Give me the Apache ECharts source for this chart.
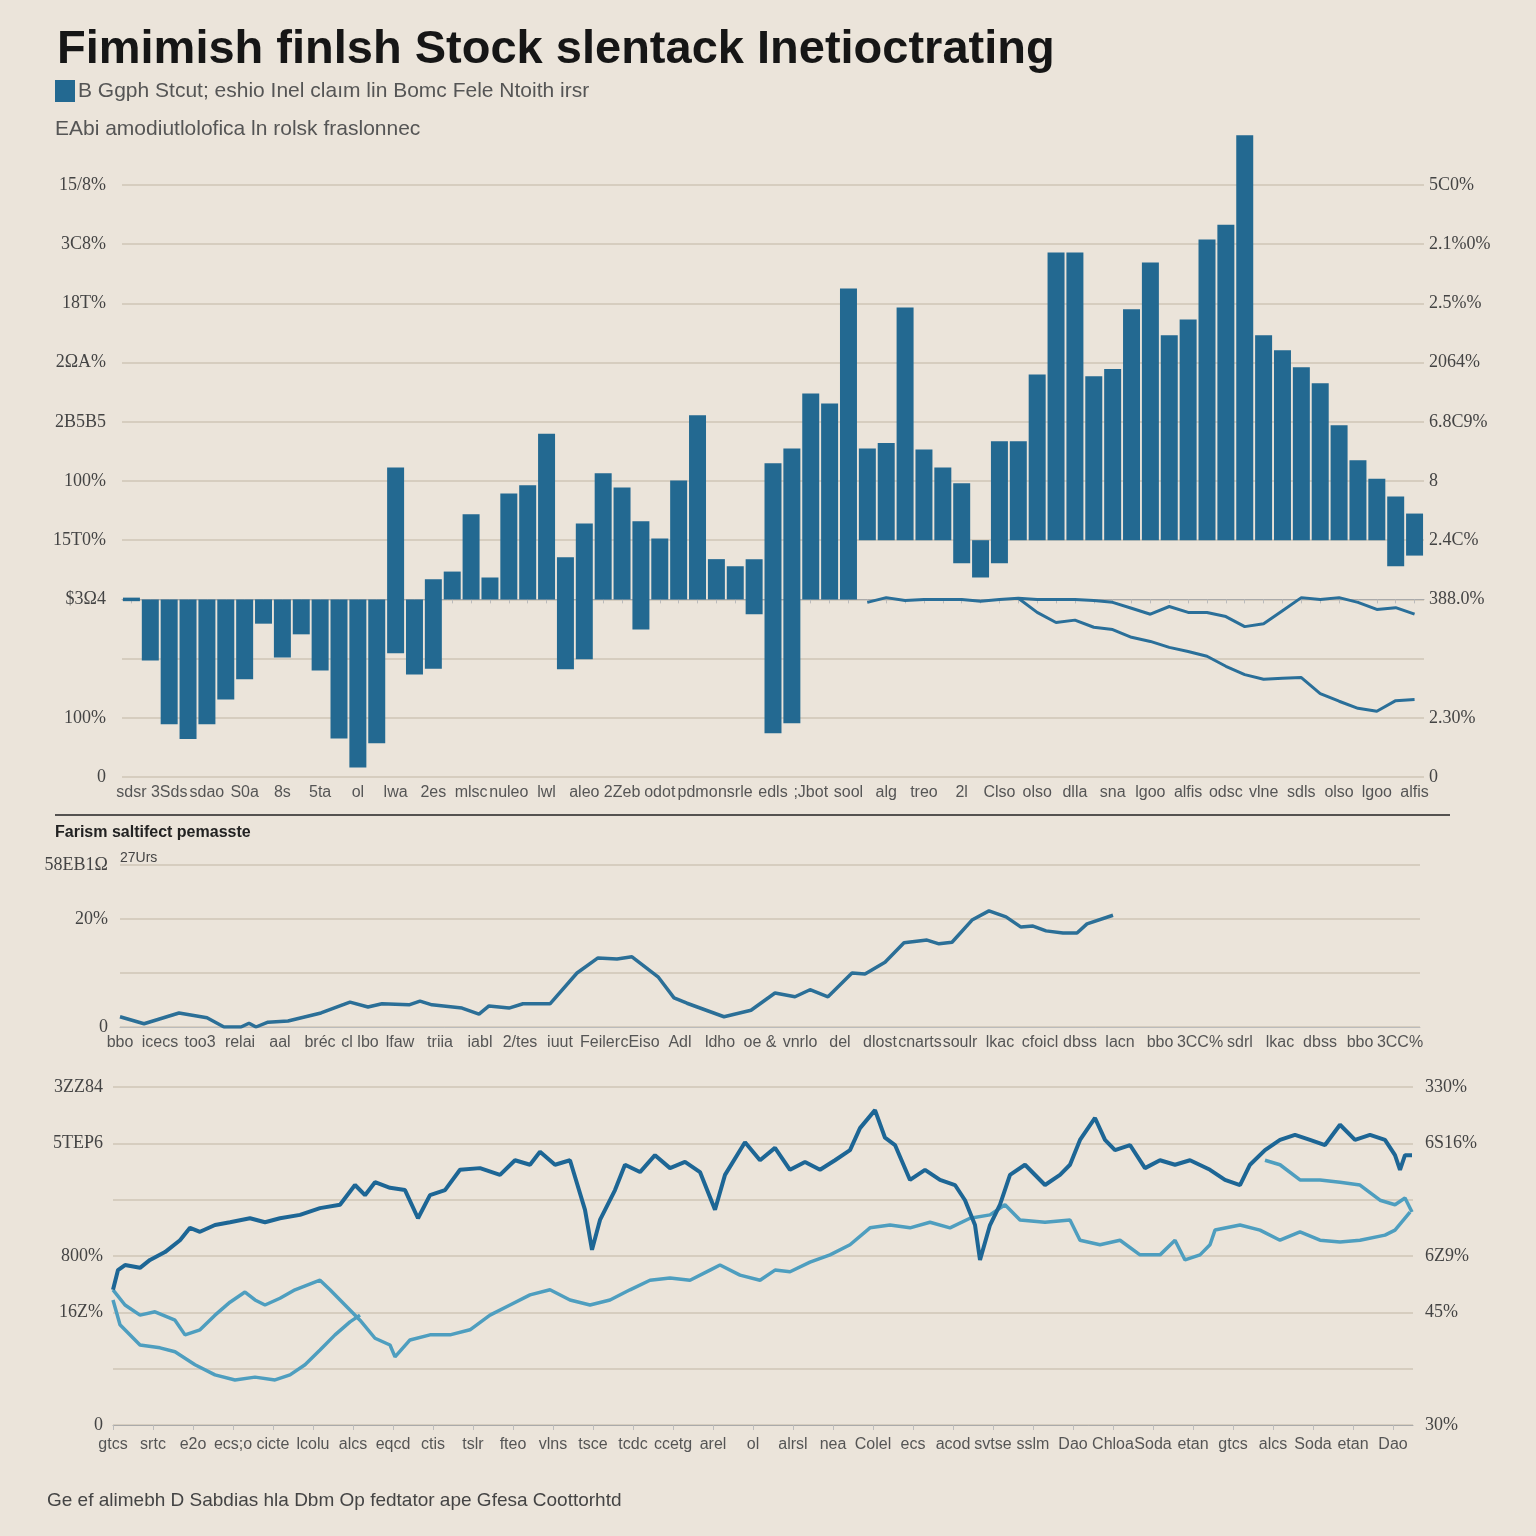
<!DOCTYPE html>
<html><head><meta charset="utf-8">
<script src="https://cdn.jsdelivr.net/npm/echarts@6/dist/echarts.min.js"></script>
<style>html,body{margin:0;padding:0;background:#ebe4da}#c{width:1536px;height:1536px}</style>
</head><body><div id="c"></div>
<script>
// ---------- TEXT ----------
const titleText = "Fimimish finlsh Stock slentack Inetioctrating";
const legendText = "B Ggph Stcut; eshio Inel claım lin Bomc Fele Ntoith irsr";
const subtitleText = "EAbi amodiutlolofica ln rolsk fraslonnec";
const panel2Header = "Farism saltifect pemasste";
const panel2Unit = "27Urs";
const footerText = "Ge ef alimebh D Sabdias hla Dbm Op fedtator ape Gfesa Coottorhtd";

// ---------- PANEL 1 (bars + two lines) ----------
const p1LeftLabels  = ["0","100%","","$3Ω4","15T0%","100%","2B5B5","2ΩA%","18T%","3C8%","15/8%"];
const p1RightLabels = ["0","2.30%","","388.0%","2.4C%","8","6.8C9%","2064%","2.5%%","2.1%0%","5C0%"];
const p1Words = ["sdsr","3Sds","sdao","S0a","8s","5ta","ol","lwa","2es","mlsc","nuleo","lwl","aleo","2Zeb","odot","pdmo","nsrle","edls",";Jbot","sool","alg","treo","2l","Clso","olso","dlla","sna","lgoo","alfis","odsc","vlne","sdls","olso","lgoo","alfis"];
const barLow  = [-0.03,-1.03,-2.11,-2.36,-2.11,-1.69,-1.35,-0.41,-0.98,-0.59,-1.20,-2.35,-2.84,-2.43,-0.91,-1.27,-1.17,0,0,0,0,0,0,-1.18,-1.01,0,0,-0.51,0,0,0,0,0,-0.25,-2.26,-2.09,0,0,0,1,1,1,1,1,0.61,0.37,0.61,1,1,1,1,1,1,1,1,1,1,1,1,1,1,1,1,1,1,1,1,0.56,0.74];
const barHigh = [0.03,0,0,0,0,0,0,0,0,0,0,0,0,0,2.23,0,0.34,0.47,1.44,0.37,1.79,1.93,2.80,0.71,1.28,2.13,1.89,1.32,1.03,2.01,3.11,0.68,0.56,0.68,2.30,2.55,3.48,3.31,5.25,2.55,2.64,4.93,2.53,2.23,1.96,1.0,2.67,2.67,3.80,5.86,5.86,3.77,3.89,4.90,5.69,4.46,4.73,6.08,6.33,7.84,4.46,4.21,3.92,3.65,2.94,2.35,2.04,1.74,1.45];
const lineUpperStart = 39;
const lineUpper = [-0.05,0.03,-0.02,0,0,0,-0.03,0,0.02,0,0,0,-0.02,-0.05,-0.15,-0.25,-0.12,-0.22,-0.22,-0.29,-0.46,-0.41,-0.19,0.03,0,0.03,-0.05,-0.17,-0.14,-0.25];
const lineLowerStart = 47;
const lineLower = [0.02,-0.22,-0.39,-0.35,-0.47,-0.51,-0.64,-0.71,-0.81,-0.88,-0.96,-1.13,-1.27,-1.35,-1.33,-1.32,-1.59,-1.72,-1.84,-1.89,-1.71,-1.69];

// ---------- PANEL 2 (single line) ----------
const p2LeftLabels = ["0","","20%","58EB1Ω"];
const p2Words = ["bbo","icecs","too3","relai","aal","bréc","cl lbo","lfaw","triia","iabl","2/tes","iuut","Feiler","cEiso","Adl","ldho","oe &","vnrlo","del","dlost","cnarts","soulr","lkac","cfoicl","dbss","lacn","bbo","3CC%","sdrl","lkac","dbss","bbo","3CC%"];
const p2X = [0,2.4,5.9,8.7,10.4,12.1,12.9,13.6,14.8,16.8,20.1,23.0,24.8,26.2,28.9,30.0,31.2,34.2,35.9,36.9,38.9,40.3,43.0,45.7,47.8,49.7,51.2,53.8,55.4,56.7,60.4,63.1,65.5,67.5,69.0,70.8,73.2,74.5,76.5,78.4,80.7,81.9,83.2,85.2,86.9,88.6,90.1,91.3,92.6,94.3,95.7,96.7,99.3];
const p2Y = [0.19,0.06,0.26,0.17,0,0,0.07,0,0.09,0.11,0.26,0.46,0.37,0.43,0.41,0.48,0.41,0.35,0.24,0.39,0.35,0.43,0.43,1.0,1.28,1.26,1.30,0.93,0.54,0.44,0.19,0.31,0.63,0.56,0.69,0.56,1.0,0.98,1.20,1.56,1.61,1.54,1.57,1.98,2.15,2.04,1.85,1.87,1.78,1.74,1.74,1.91,2.07];

// ---------- PANEL 3 (three lines) ----------
const p3LeftLabels  = ["0","","16Z%","800%","","5TEP6","3ZZ84"];
const p3RightLabels = ["30%","","45%","6Z9%","","6S16%","330%"];
const p3Words = ["gtcs","srtc","e2o","ecs;o","cicte","lcolu","alcs","eqcd","ctis","tslr","fteo","vlns","tsce","tcdc","ccetg","arel","ol","alrsl","nea","Colel","ecs","acod","svtse","sslm","Dao","Chloa","Soda","etan","gtcs","alcs","Soda","etan","Dao"];
const darkX = [0,0.5,1.2,2.7,3.7,5.2,6.7,7.7,8.7,10.2,11.7,13.7,15.2,16.7,18.7,20.7,22.7,24.2,25.2,26.2,27.7,29.2,30.5,31.7,33.2,34.7,36.7,38.7,40.2,41.7,42.7,44.2,45.7,47.2,47.9,48.7,50.2,51.2,52.7,54.2,55.7,57.2,58.7,60.2,61.2,63.2,64.7,66.2,67.7,69.2,70.7,72.2,73.7,74.7,76.2,77.2,78.2,79.7,81.2,82.7,84.2,85.2,86.2,86.7,87.7,88.7,89.7,91.2,93.2,94.7,95.7,96.7,98.2,99.2,100.2,101.7,103.2,104.7,106.2,107.7,109.7,111.2,112.7,113.7,115.2,116.7,118.2,119.7,121.2,122.7,124.2,125.7,127.2,128.2,128.7,129.2,129.9];
const darkY = [2.40,2.75,2.84,2.79,2.93,3.07,3.28,3.50,3.43,3.55,3.60,3.67,3.60,3.67,3.73,3.85,3.91,4.26,4.08,4.31,4.21,4.17,3.67,4.08,4.17,4.53,4.56,4.44,4.70,4.62,4.85,4.62,4.70,3.82,3.11,3.64,4.17,4.62,4.49,4.79,4.56,4.67,4.49,3.82,4.44,5.02,4.70,4.92,4.53,4.67,4.53,4.70,4.88,5.27,5.59,5.10,4.97,4.35,4.53,4.35,4.26,3.99,3.55,2.93,3.55,3.91,4.44,4.62,4.26,4.44,4.62,5.06,5.45,5.06,4.88,4.97,4.56,4.70,4.62,4.70,4.53,4.35,4.26,4.62,4.88,5.06,5.15,5.06,4.97,5.33,5.06,5.15,5.06,4.79,4.53,4.79,4.79];
const lightAX = [0,1.2,2.7,4.2,6.2,7.2,8.7,10.2,11.7,13.2,14.2,15.2,16.7,18.2,20.7,21.7,23.2,24.7,26.2,27.7,28.2,29.7,31.7,33.7,35.7,37.7,39.7,41.7,43.7,45.7,47.7,49.7,51.7,53.7,55.7,57.7,59.7,60.7,62.7,64.7,66.2,67.7,69.7,71.7,73.7,75.7,77.7,79.7,81.7,83.7,85.7,87.7,89.2,90.7,93.2,95.7,96.7,98.7,100.7,102.7,104.7,106.2,107.2,108.7,109.7,110.2,112.7,114.7,116.7,118.7,120.7,122.7,124.7,127.2,128.2,129.7];
const lightAY = [2.40,2.13,1.95,2.01,1.86,1.60,1.69,1.95,2.18,2.36,2.22,2.13,2.25,2.40,2.57,2.40,2.13,1.86,1.54,1.42,1.21,1.51,1.60,1.60,1.69,1.95,2.13,2.31,2.40,2.22,2.13,2.22,2.40,2.57,2.61,2.57,2.75,2.84,2.66,2.57,2.75,2.72,2.89,3.02,3.20,3.50,3.55,3.50,3.60,3.50,3.67,3.73,3.91,3.64,3.60,3.64,3.28,3.20,3.28,3.02,3.02,3.28,2.93,3.02,3.20,3.46,3.55,3.46,3.28,3.43,3.28,3.25,3.28,3.37,3.46,3.78];
const lightBX = [0,0.7,2.7,4.7,6.2,8.2,10.2,12.2,14.2,16.2,17.7,19.2,20.7,22.2,23.7,24.7,null,115.2,116.7,118.7,120.7,122.7,124.7,126.7,128.2,129.2,129.9];
const lightBY = [2.22,1.78,1.42,1.37,1.30,1.07,0.89,0.80,0.85,0.80,0.89,1.07,1.33,1.60,1.83,1.95,null,4.70,4.62,4.35,4.35,4.31,4.26,3.99,3.91,4.03,3.78];

// ---------- build ----------
const N = barLow.length;
const cats = barLow.map((_, i) => (i % 2 === 0 ? p1Words[i / 2] : ""));
const barData = barLow.map((lo, i) => [i, lo, barHigh[i]]);
const upperData = new Array(N).fill(null);
lineUpper.forEach((v, k) => { upperData[lineUpperStart + k] = v; });
const lowerData = new Array(N).fill(null);
lineLower.forEach((v, k) => { lowerData[lineLowerStart + k] = v; });
const pairs = (xs, ys) => xs.map((x, i) => (x === null ? [null, null] : [x, ys[i]]));

const BAR = '#236991';
const DARK = '#1d6695';
const LIGHT = '#4e9ebf';
const GRID = '#d6cdbf';
const serif = '"Liberation Serif", "DejaVu Serif", serif';
const narrow = '"Liberation Sans Narrow", "Liberation Sans", sans-serif';
const sans = '"Liberation Sans", Arial, sans-serif';

const yLabel = (arr, min) => ({ color: '#444', fontSize: 18, fontFamily: serif, formatter: v => arr[Math.round(v - min)] || '' });
const splitL = { show: true, lineStyle: { color: GRID, width: 2 } };

const chart = echarts.init(document.getElementById('c'));
chart.setOption({
  backgroundColor: '#ebe4da',
  animation: false,
  title: [
    { text: titleText, left: 52, top: 22, textStyle: { fontSize: 47, fontWeight: 'bold', color: '#161616', fontFamily: sans } },
    { text: subtitleText, left: 50, top: 114, textStyle: { fontSize: 21, fontWeight: 'normal', color: '#555', fontFamily: narrow } },
    { text: panel2Header, left: 50, top: 820, textStyle: { fontSize: 16, fontWeight: 'bold', color: '#222', fontFamily: sans } },
    { text: panel2Unit, left: 115, top: 846, textStyle: { fontSize: 14, fontWeight: 'normal', color: '#444', fontFamily: narrow } },
    { text: footerText, left: 42, top: 1486, textStyle: { fontSize: 19, fontWeight: 'normal', color: '#444', fontFamily: narrow } }
  ],
  legend: {
    data: [legendText], left: 55, top: 80, padding: 0, icon: 'rect', itemWidth: 20, itemHeight: 22, itemGap: 4,
    textStyle: { fontSize: 21, color: '#555', fontFamily: narrow, padding: [0, 0, 0, -2] }
  },
  graphic: [
    { type: 'line', shape: { x1: 55, y1: 815, x2: 1450, y2: 815 }, style: { stroke: '#222', lineWidth: 1.5 } }
  ],
  grid: [
    { left: 122, right: 112, top: 185, height: 592 },
    { left: 120, right: 116, top: 865, height: 162 },
    { left: 113, right: 123, top: 1087, height: 338 }
  ],
  xAxis: [
    { gridIndex: 0, type: 'category', data: cats,
      axisLine: { lineStyle: { color: '#aaa', width: 1 } }, axisTick: { show: true, alignWithLabel: true, length: 4, lineStyle: { color: '#bbb' } },
      axisLabel: { interval: 0, color: '#555', fontSize: 16, fontFamily: narrow, margin: 8 } },
    { gridIndex: 1, type: 'value', min: 0, max: 130, interval: 4,
      splitLine: { show: false }, axisLine: { show: true, lineStyle: { color: '#bbb' } }, axisTick: { show: false },
      axisLabel: { color: '#555', fontSize: 16, fontFamily: narrow, margin: 8, showMaxLabel: false, formatter: v => p2Words[Math.round(v / 4)] || '' } },
    { gridIndex: 2, type: 'value', min: 0, max: 130, interval: 4,
      splitLine: { show: false }, axisLine: { show: true, lineStyle: { color: '#aaa' } }, axisTick: { show: true, length: 5, lineStyle: { color: '#bbb' } },
      axisLabel: { color: '#555', fontSize: 16, fontFamily: narrow, margin: 12, showMaxLabel: false, formatter: v => p3Words[Math.round(v / 4)] || '' } }
  ],
  yAxis: [
    { gridIndex: 0, type: 'value', min: -3, max: 7, interval: 1, position: 'left', splitLine: splitL,
      axisLine: { show: false }, axisTick: { show: false }, axisLabel: Object.assign(yLabel(p1LeftLabels, -3), { margin: 16 }) },
    { gridIndex: 0, type: 'value', min: -3, max: 7, interval: 1, position: 'right', splitLine: { show: false },
      axisLine: { show: false }, axisTick: { show: false }, axisLabel: Object.assign(yLabel(p1RightLabels, -3), { margin: 5 }) },
    { gridIndex: 1, type: 'value', min: 0, max: 3, interval: 1, splitLine: splitL,
      axisLine: { show: false }, axisTick: { show: false }, axisLabel: Object.assign(yLabel(p2LeftLabels, 0), { margin: 12 }) },
    { gridIndex: 2, type: 'value', min: 0, max: 6, interval: 1, position: 'left', splitLine: splitL,
      axisLine: { show: false }, axisTick: { show: false }, axisLabel: Object.assign(yLabel(p3LeftLabels, 0), { margin: 10 }) },
    { gridIndex: 2, type: 'value', min: 0, max: 6, interval: 1, position: 'right', splitLine: { show: false },
      axisLine: { show: false }, axisTick: { show: false }, axisLabel: Object.assign(yLabel(p3RightLabels, 0), { margin: 12 }) }
  ],
  series: [
    { name: legendText, type: 'custom', xAxisIndex: 0, yAxisIndex: 0, data: barData,
      itemStyle: { color: BAR }, encode: { x: 0, y: [1, 2] },
      renderItem: (params, api) => {
        const i = api.value(0), lo = api.value(1), hi = api.value(2);
        const pTop = api.coord([i, hi]), pBot = api.coord([i, lo]);
        const w = api.size([1, 0])[0] * 0.9;
        return { type: 'rect', shape: { x: pTop[0] - w / 2, y: pTop[1], width: w, height: Math.max(pBot[1] - pTop[1], 3) },
                 style: { fill: BAR } };
      } },
    { type: 'line', xAxisIndex: 0, yAxisIndex: 0, data: upperData, symbol: 'none', smooth: false,
      lineStyle: { color: '#2a6f99', width: 3 } },
    { type: 'line', xAxisIndex: 0, yAxisIndex: 0, data: lowerData, symbol: 'none',
      lineStyle: { color: '#2a6f99', width: 3 } },
    { type: 'line', xAxisIndex: 1, yAxisIndex: 2, data: pairs(p2X, p2Y), symbol: 'none',
      lineStyle: { color: '#2b6f97', width: 3.5 } },
    { type: 'line', xAxisIndex: 2, yAxisIndex: 3, data: pairs(lightBX, lightBY), symbol: 'none', connectNulls: false,
      lineStyle: { color: LIGHT, width: 3.5 } },
    { type: 'line', xAxisIndex: 2, yAxisIndex: 3, data: pairs(lightAX, lightAY), symbol: 'none',
      lineStyle: { color: LIGHT, width: 3.5 } },
    { type: 'line', xAxisIndex: 2, yAxisIndex: 3, data: pairs(darkX, darkY), symbol: 'none',
      lineStyle: { color: DARK, width: 4 } }
  ]
});
</script></body></html>
